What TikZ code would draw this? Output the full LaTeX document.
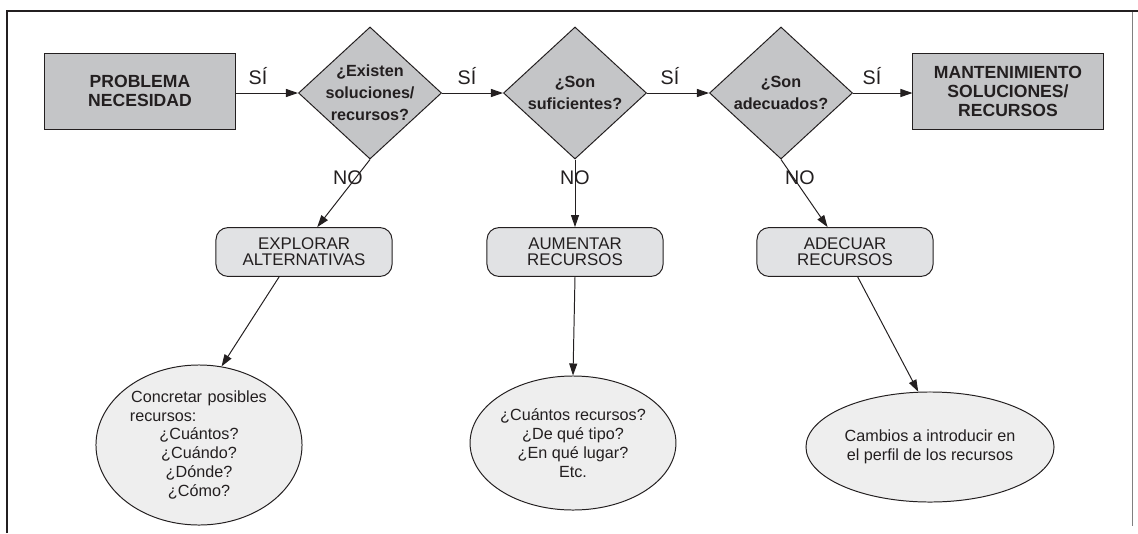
\documentclass[tikz,border=0pt]{standalone}
\usepackage{fontspec}
\setmainfont{Liberation Sans}
\usetikzlibrary{shapes.geometric,arrows.meta}

\definecolor{ink}{RGB}{35,31,32}
\definecolor{boxgray}{RGB}{196,197,199}
\definecolor{roundgray}{RGB}{225,226,228}
\definecolor{ellgray}{RGB}{238,238,238}

\begin{document}
\begin{tikzpicture}[x=0.025cm,y=-0.025cm,
    mainbox/.style={rectangle,draw=ink,fill=boxgray,line width=0.7pt,minimum width=4.75cm,minimum height=1.9cm,align=center,text=ink,font=\bfseries\fontsize{12.5}{13.5}\selectfont},
    ask/.style={diamond,draw=ink,fill=boxgray,line width=0.7pt,minimum width=3.575cm,minimum height=3.3cm,inner sep=0pt},
    asktxt/.style={align=center,text=ink,font=\bfseries\fontsize{11.5}{15.5}\selectfont},
    action/.style={rectangle,rounded corners=0.3cm,draw=ink,fill=roundgray,line width=0.7pt,minimum width=4.4cm,minimum height=1.22cm,align=center,text=ink,font=\fontsize{12}{11.5}\selectfont},
    detail/.style={ellipse,draw=ink,fill=ellgray,line width=0.7pt,inner sep=0pt,align=center,text=ink,font=\fontsize{11.5}{13.5}\selectfont},
    answer/.style={text=ink,font=\fontsize{14}{14}\selectfont},
    link/.style={-{Triangle[length=0.3cm,width=0.2cm]},draw=ink,line width=0.7pt}]
    \useasboundingbox (0,0) rectangle (1138,533);

    % frame
    \draw[ink,line width=2pt] (7,533) -- (7,11) -- (1138,11);
    \draw[gray,line width=0.6pt] (1132,12) -- (1132,526);

    % main row
    \node (need) at (140,91) [mainbox] {PROBLEMA\\NECESIDAD};
    \node (exist) at (370,93) [ask,label={[asktxt]center:{¿Existen\\soluciones/\\recursos?}}] {};
    \node (enough) at (575,93) [ask,label={[asktxt]center:{¿Son\\suficientes?}}] {};
    \node (suit) at (781,93) [ask,label={[asktxt]center:{¿Son\\adecuados?}}] {};
    \node (keep) at (1008,91) [mainbox] {MANTENIMIENTO\\SOLUCIONES/\\RECURSOS};

    % actions
    \node (explore) at (304,252) [action] {EXPLORAR\\ALTERNATIVAS};
    \node (raise) at (575,252) [action] {AUMENTAR\\RECURSOS};
    \node (adapt) at (845,252) [action] {ADECUAR\\RECURSOS};

    % details
    \node (e1) at (199,445) [detail,text width=3.45cm,minimum width=5.15cm,minimum height=4cm]
        {Concretar posibles\\recursos:\hfill\mbox{}\\¿Cuántos?\\¿Cuándo?\\¿Dónde?\\¿Cómo?};
    \node (e2) at (573,443) [detail,minimum width=4.75cm,minimum height=3.35cm]
        {¿Cuántos recursos?\\¿De qué tipo?\\¿En qué lugar?\\Etc.};
    \node (e3) at (930,447) [detail,minimum width=6.2cm,minimum height=2.75cm]
        {Cambios a introducir en\\el perfil de los recursos};

    % answers
    \node (yes1) at (258,76) [answer] {SÍ};
    \node (yes2) at (467,76) [answer] {SÍ};
    \node (yes3) at (670,76) [answer] {SÍ};
    \node (yes4) at (872,76) [answer] {SÍ};
    \node (no1) at (348,178) [answer] {NO};
    \node (no2) at (575,178) [answer] {NO};
    \node (no3) at (800,178) [answer] {NO};

    \draw[link] (need.east |- exist.west) -- (exist.west);
    \draw[link] (exist.east) -- (enough.west);
    \draw[link] (enough.east) -- (suit.west);
    \draw[link] (suit.east) -- (suit.east -| keep.west);
    \draw[link] (exist.south) -- (explore.62);
    \draw[link] (enough.south) -- (raise.north);
    \draw[link] (suit.south) -- (adapt.125);
    \draw[link] (explore.225) -- (e1.74);
    \draw[link] (raise.south) -- (e2.north);
    \draw[link] (adapt.297) -- (e3.102);
\end{tikzpicture}
\end{document}
